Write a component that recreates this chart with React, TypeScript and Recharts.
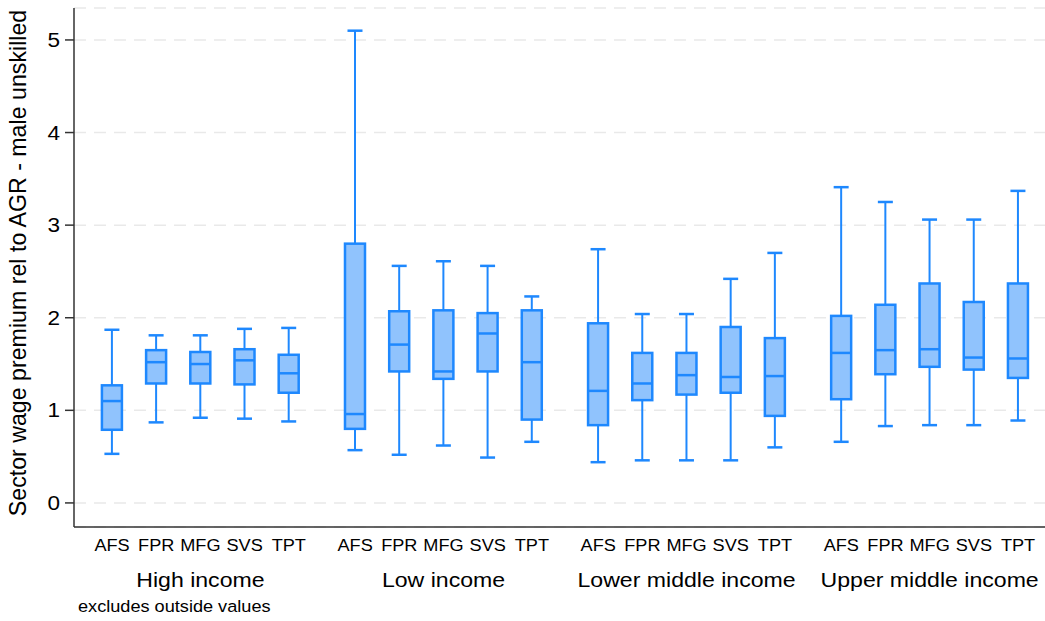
import { Bar, CartesianGrid, ComposedChart, XAxis, YAxis } from 'recharts'

const groups = ['High income', 'Low income', 'Lower middle income', 'Upper middle income']
const sectors = ['AFS', 'FPR', 'MFG', 'SVS', 'TPT']

// lower adjacent value, Q1, median, Q3, upper adjacent value (per group, per sector)
const lowAdj = [
	[0.53, 0.87, 0.92, 0.91, 0.88],
	[0.57, 0.52, 0.62, 0.49, 0.66],
	[0.44, 0.46, 0.46, 0.46, 0.6],
	[0.66, 0.83, 0.84, 0.84, 0.89],
]
const q1 = [
	[0.79, 1.29, 1.29, 1.28, 1.19],
	[0.8, 1.42, 1.34, 1.42, 0.9],
	[0.84, 1.11, 1.17, 1.19, 0.94],
	[1.12, 1.39, 1.47, 1.44, 1.35],
]
const median = [
	[1.1, 1.52, 1.5, 1.54, 1.4],
	[0.96, 1.71, 1.42, 1.83, 1.52],
	[1.21, 1.29, 1.38, 1.36, 1.37],
	[1.62, 1.65, 1.66, 1.57, 1.56],
]
const q3 = [
	[1.27, 1.65, 1.63, 1.66, 1.6],
	[2.8, 2.07, 2.08, 2.05, 2.08],
	[1.94, 1.62, 1.62, 1.9, 1.78],
	[2.02, 2.14, 2.37, 2.17, 2.37],
]
const highAdj = [
	[1.87, 1.81, 1.81, 1.88, 1.89],
	[5.1, 2.56, 2.61, 2.56, 2.23],
	[2.74, 2.04, 2.04, 2.42, 2.7],
	[3.41, 3.25, 3.06, 3.06, 3.37],
]
const yTicks = [0, 1, 2, 3, 4, 5]

const data = groups.flatMap((group, gi) =>
	sectors.map((sector, si) => ({
		pos: si + gi * 5.5,
		sector,
		group,
		si,
		low: lowAdj[gi][si],
		q1: q1[gi][si],
		med: median[gi][si],
		q3: q3[gi][si],
		high: highAdj[gi][si],
	}))
)

const STROKE = '#1e88fe'
const FILL = '#90c3fd'
const FONT = '"Liberation Sans", Arial, sans-serif'
const SX = 1.1 // text in the original is a bit wide

const BoxShape = (props: any) => {
	const { x, y, width, height, payload } = props
	const top = Math.min(y, y + height)
	const bottom = Math.max(y, y + height)
	const ppu = (bottom - top) / (payload.high - payload.low)
	const py = (v: number) => bottom - (v - payload.low) * ppu
	const cx = x + width / 2
	const half = 10
	const cap = 7.5
	return (
		<g>
			<line x1={cx} x2={cx} y1={py(payload.high)} y2={py(payload.q3)} stroke={STROKE} strokeWidth={2} />
			<line x1={cx} x2={cx} y1={py(payload.q1)} y2={py(payload.low)} stroke={STROKE} strokeWidth={2} />
			<line x1={cx - cap} x2={cx + cap} y1={py(payload.high)} y2={py(payload.high)} stroke={STROKE} strokeWidth={2.5} />
			<line x1={cx - cap} x2={cx + cap} y1={py(payload.low)} y2={py(payload.low)} stroke={STROKE} strokeWidth={2.5} />
			<rect
				x={cx - half}
				y={py(payload.q3)}
				width={half * 2}
				height={py(payload.q1) - py(payload.q3)}
				fill={FILL}
				stroke={STROKE}
				strokeWidth={2.5}
			/>
			<line x1={cx - half} x2={cx + half} y1={py(payload.med)} y2={py(payload.med)} stroke={STROKE} strokeWidth={2.5} />
		</g>
	)
}

const WideText = ({ x, y, size, anchor, children }: any) => (
	<text
		transform={`translate(${x},${y}) scale(${SX},1)`}
		textAnchor={anchor}
		fontSize={size}
		fill='#000'
		fontFamily={FONT}
	>
		{children}
	</text>
)

const SectorTick = (props: any) => {
	const { x, y, payload } = props
	const d = data.find((e) => e.pos === payload.value)
	if (!d) return null
	return (
		<g>
			<WideText x={x} y={y + 24} size={16.5} anchor='middle'>
				{d.sector}
			</WideText>
			{d.si === 2 && (
				<WideText x={x} y={y + 60} size={21} anchor='middle'>
					{d.group}
				</WideText>
			)}
		</g>
	)
}

const ValueTick = (props: any) => {
	const { x, y, payload } = props
	return (
		<WideText x={x} y={y + 7} size={20.5} anchor='end'>
			{payload.value}
		</WideText>
	)
}

const App = () => {
	return (
		<div style={{ position: 'absolute', left: 0, top: 0, width: 1045, height: 621, background: '#fff' }}>
			<ComposedChart
				width={1045}
				height={621}
				data={data}
				margin={{ top: 8, right: 0, bottom: 0, left: 0 }}
				style={{ fontFamily: FONT }}
			>
				<CartesianGrid vertical={false} stroke='#e9e9e9' strokeWidth={1.5} strokeDasharray='12 8' />
				<XAxis
					dataKey='pos'
					type='number'
					domain={[-0.86, 21.11]}
					ticks={data.map((d) => d.pos)}
					interval={0}
					allowDataOverflow
					tickLine={false}
					tickSize={0}
					tickMargin={0}
					height={94}
					axisLine={{ stroke: '#333', strokeWidth: 1.5 }}
					tick={<SectorTick />}
				/>
				<YAxis
					type='number'
					domain={[-0.26, 5.345]}
					ticks={yTicks}
					allowDataOverflow
					width={74}
					tickSize={9}
					tickMargin={5}
					axisLine={{ stroke: '#333', strokeWidth: 1.5 }}
					tickLine={{ stroke: '#333', strokeWidth: 1.5 }}
					tick={<ValueTick />}
				/>
				<Bar
					dataKey={(d: any) => [d.low, d.high]}
					barSize={22}
					shape={<BoxShape />}
					isAnimationActive={false}
				/>
			</ComposedChart>
			<svg
				width={1045}
				height={621}
				style={{ position: 'absolute', left: 0, top: 0, pointerEvents: 'none' }}
			>
				<text
					x={26}
					y={263}
					transform='rotate(-90 26 263)'
					textAnchor='middle'
					fontSize={23.2}
					fill='#000'
					fontFamily={FONT}
				>
					Sector wage premium rel to AGR - male unskilled
				</text>
				<WideText x={78} y={612} size={16.5} anchor='start'>
					excludes outside values
				</WideText>
			</svg>
		</div>
	)
}

export default App
